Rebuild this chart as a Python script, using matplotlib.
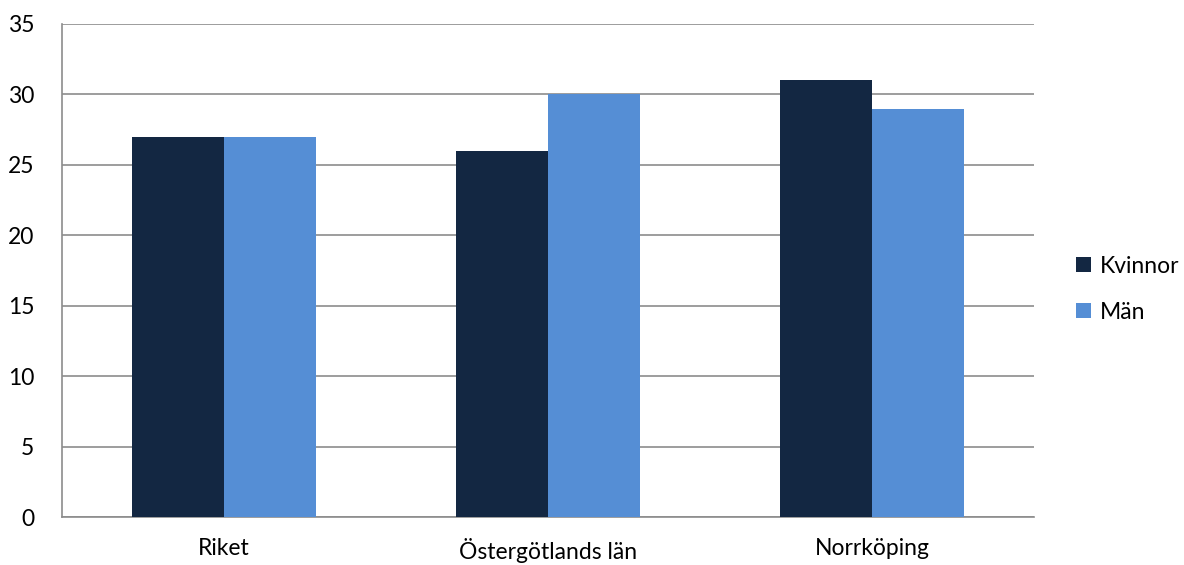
import numpy as np
import matplotlib.pyplot as plt

plt.rcParams['font.family'] = ['Lato', 'DejaVu Sans']

categories = ['Riket', 'Östergötlands län', 'Norrköping']
kvinnor = [27, 26, 31]
man = [27, 30, 29]
series_names = ['Kvinnor', 'Män']
colors = ['#132742', '#558ED5']

fig = plt.figure(figsize=(11.84, 5.65), dpi=100)
ax = fig.add_axes([62 / 1184, 1 - 517 / 565, (1034 - 62) / 1184, (517 - 24) / 565])

x = np.arange(len(categories))
w = 0.284
ax.bar(x - w / 2, kvinnor, w, color=colors[0], label=series_names[0], zorder=3)
ax.bar(x + w / 2, man, w, color=colors[1], label=series_names[1], zorder=3)

ax.set_xlim(-0.5, len(categories) - 0.5)
ax.set_ylim(0, 35)
ax.set_yticks(range(0, 36, 5))
ax.set_xticks(x)
ax.set_xticklabels(categories)
ax.yaxis.grid(True, color='#8C8C8C', linewidth=1.2, zorder=0)
ax.tick_params(length=0, labelsize=16.5, colors='#000000')
ax.tick_params(axis='x', pad=15)
ax.tick_params(axis='y', pad=20)
for s in ['top', 'right']:
    ax.spines[s].set_visible(False)
for s in ['left', 'bottom']:
    ax.spines[s].set_color('#8C8C8C')
    ax.spines[s].set_linewidth(1.2)

ax.legend(loc='center left', bbox_to_anchor=(1.022, 0.462), frameon=False,
          fontsize=16.5, handlelength=0.65, handleheight=0.65, handletextpad=0.4,
          labelspacing=1.1)

fig.savefig('out.png', dpi=100)
